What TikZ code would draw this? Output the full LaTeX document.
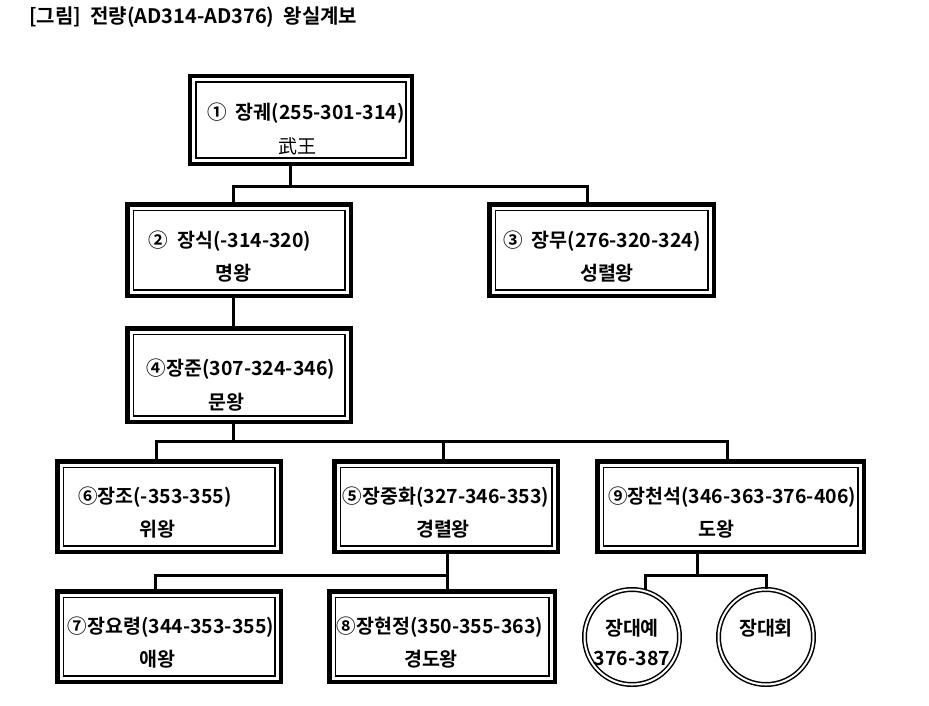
\documentclass[tikz,border=0pt]{standalone}
\usepackage{fontspec}
\setmainfont{Noto Sans CJK KR}[BoldFont={Noto Sans CJK KR Bold}]
\begin{document}
\begin{tikzpicture}[x=1pt,y=-1pt,
  kbox/.style={draw, line width=4.5pt, inner sep=0pt,
    path picture={\draw[line width=1.5pt]
      ([shift={(6,6)}]path picture bounding box.north west) rectangle
      ([shift={(-6,-6)}]path picture bounding box.south east);}},
  kcirc/.style={circle, draw, line width=1.5pt, double, double distance=2pt, inner sep=0pt, minimum size=95pt},
  conn/.style={line width=3pt},
  t/.style={inner sep=0pt, font=\fontsize{19.5}{22}\selectfont\bfseries},
  tr/.style={inner sep=0pt, font=\fontsize{19}{22}\selectfont}
]
\useasboundingbox (0,0) rectangle (929,705);
\fill[white] (0,0) rectangle (929,705);

% title
\node[t, anchor=west, font=\fontsize{20}{23}\selectfont\bfseries] (title) at (29,17) {[그림]\ \ 전량(AD314-AD376)\ \ 왕실계보};

% boxes
\node[kbox, minimum width=222pt, minimum height=88pt] (b1) at (301,120) {};
\node[kbox, minimum width=223.5pt, minimum height=91.5pt] (b2) at (239,250) {};
\node[kbox, minimum width=224.5pt, minimum height=91.5pt] (b3) at (601.5,250) {};
\node[kbox, minimum width=223.5pt, minimum height=93.5pt] (b4) at (239,375) {};
\node[kbox, minimum width=223.5pt, minimum height=90.5pt] (b6) at (169,506.5) {};
\node[kbox, minimum width=223.5pt, minimum height=90.5pt] (b5) at (446,506.5) {};
\node[kbox, minimum width=266.5pt, minimum height=90.5pt] (b9) at (730.5,506.5) {};
\node[kbox, minimum width=223.5pt, minimum height=90.5pt] (b7) at (169,636.5) {};
\node[kbox, minimum width=225.5pt, minimum height=90.5pt] (b8) at (442,636.5) {};
\node[kcirc] (c1) at (632,637) {};
\node[kcirc] (c2) at (766,637) {};

% texts
\node[t] (t1a) at (306,113) {①\ \ 장궤(255-301-314)};
\node[tr] (t1b) at (297,146) {武王};
\node[t] (t2a) at (230,241) {②\ \ 장식(-314-320)};
\node[t] (t2b) at (233,273) {명왕};
\node[t] (t3a) at (602,241) {③\ \ 장무(276-320-324)};
\node[t] (t3b) at (607,273) {성렬왕};
\node[t] (t4a) at (241,369) {④장준(307-324-346)};
\node[t] (t4b) at (226,402) {문왕};
\node[t] (t6a) at (155,497) {⑥장조(-353-355)};
\node[t] (t6b) at (157,529) {위왕};
\node[t] (t5a) at (446,497) {⑤장중화(327-346-353)};
\node[t] (t5b) at (443,529) {경렬왕};
\node[t] (t9a) at (732,497) {⑨장천석(346-363-376-406)};
\node[t] (t9b) at (716,529) {도왕};
\node[t] (t7a) at (171,627) {⑦장요령(344-353-355)};
\node[t] (t7b) at (157,659) {애왕};
\node[t] (t8a) at (440,627) {⑧장현정(350-355-363)};
\node[t] (t8b) at (431,659) {경도왕};
\node[t] (tc1a) at (632,628) {장대예};
\node[t] (tc1b) at (632,658) {376-387};
\node[t] (tc2a) at (766,628) {장대회};

% junctions
\coordinate (j1) at (290,186);
\coordinate (j2) at (233,441);
\coordinate (j3) at (447,575);
\coordinate (j4) at (697,575);

% connectors
\draw[conn] ([xshift=-11pt]b1.south) -- (j1);
\draw[conn] ([xshift=-6pt]b2.north) |- ([xshift=-14.5pt]b3.north |- j1) -- ([xshift=-14.5pt]b3.north);
\draw[conn] ([xshift=-6pt]b2.south) -- ([xshift=-6pt]b4.north);
\draw[conn] ([xshift=-6pt]b4.south) -- (j2);
\draw[conn] ([xshift=-13pt]b6.north) |- ([xshift=-3.5pt]b9.north |- j2) -- ([xshift=-3.5pt]b9.north);
\draw[conn] (b5.north -| 443,0) -- (443,441);
\draw[conn] (b5.south -| j3) -- (j3);
\draw[conn] ([xshift=-14pt]b7.north) |- (j3) -- (b8.north -| j3);
\draw[conn] (b9.south -| j4) -- (j4);
\draw[conn] (c1.north -| 645,0) |- (j4) -| (c2.north -| 766,0);
\end{tikzpicture}
\end{document}
